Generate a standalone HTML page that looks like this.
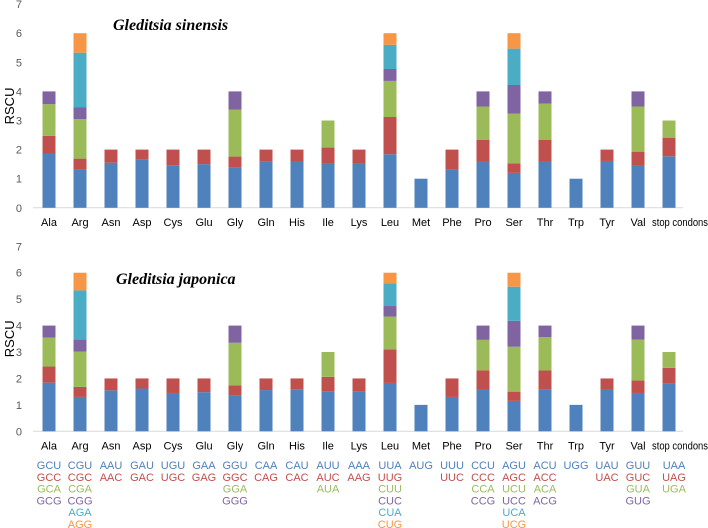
<!DOCTYPE html>
<html><head><meta charset="utf-8"><style>
body{margin:0;background:#fff;}
svg{display:block;font-family:"Liberation Sans",sans-serif;}
</style></head><body>
<svg id="chart" width="708" height="528" viewBox="0 0 708 528"></svg>
<script>
const categories=["Ala","Arg","Asn","Asp","Cys","Glu","Gly","Gln","His","Ile","Lys","Leu","Met","Phe","Pro","Ser","Thr","Trp","Tyr","Val","stop condons"];
const sinensisValues=[
[1.85,0.62,1.09,0.44],[1.32,0.37,1.36,0.41,1.87,0.67],[1.55,0.45],[1.65,0.35],[1.46,0.54],[1.5,0.5],
[1.39,0.37,1.61,0.63],[1.58,0.42],[1.59,0.41],[1.52,0.55,0.93],[1.52,0.48],[1.84,1.28,1.24,0.41,0.83,0.4],
[1],[1.32,0.68],[1.59,0.74,1.15,0.52],[1.2,0.33,1.71,0.98,1.25,0.53],[1.59,0.74,1.25,0.42],[1],[1.61,0.39],
[1.47,0.46,1.55,0.52],[1.77,0.64,0.59]];
const japonicaValues=[
[1.84,0.61,1.1,0.45],[1.3,0.38,1.34,0.45,1.86,0.67],[1.55,0.45],[1.62,0.38],[1.45,0.55],[1.48,0.52],
[1.37,0.37,1.61,0.65],[1.56,0.44],[1.59,0.41],[1.52,0.54,0.94],[1.52,0.48],[1.83,1.27,1.24,0.4,0.85,0.41],
[1],[1.3,0.7],[1.58,0.73,1.15,0.54],[1.15,0.35,1.7,0.98,1.29,0.53],[1.57,0.73,1.26,0.44],[1],[1.6,0.4],
[1.45,0.47,1.55,0.53],[1.8,0.6,0.6]];
const yTicks=[0,1,2,3,4,5,6,7];
const codons=[["GCU","GCC","GCA","GCG"],["CGU","CGC","CGA","CGG","AGA","AGG"],["AAU","AAC"],["GAU","GAC"],["UGU","UGC"],["GAA","GAG"],["GGU","GGC","GGA","GGG"],["CAA","CAG"],["CAU","CAC"],["AUU","AUC","AUA"],["AAA","AAG"],["UUA","UUG","CUU","CUC","CUA","CUG"],["AUG"],["UUU","UUC"],["CCU","CCC","CCA","CCG"],["AGU","AGC","UCU","UCC","UCA","UCG"],["ACU","ACC","ACA","ACG"],["UGG"],["UAU","UAC"],["GUU","GUC","GUA","GUG"],["UAA","UAG","UGA"]];
const colors=["#4F81BD","#C0504D","#9BBB59","#8064A2","#4BACC6","#F79646"];
const svg=document.getElementById('chart');
const NS="http://www.w3.org/2000/svg";
function mk(tag,attrs,parent){const e=document.createElementNS(NS,tag);for(const k in attrs)e.setAttribute(k,attrs[k]);(parent||svg).appendChild(e);return e;}
function xPos(i){return 49+i*31;}
function drawPanel(values,y0,unit,title,tx,ty,key){
  const g=mk('g',{});
  
  
  const yS=v=>y0-v*unit;
  yTicks.forEach(t=>{const tl=mk('text',{x:22,y:yS(t)+4,'font-size':11,fill:'#595959','text-anchor':'end'},g);tl.textContent=t;
    
    });
  const ax=mk('line',{x1:33,x2:683,y1:y0,y2:y0,stroke:'#D9D9D9','stroke-width':1},g);
  
  
  const yt=mk('text',{x:0,y:0,'font-size':13,fill:'#000','text-anchor':'middle',transform:`translate(14,${yS(3.5)}) rotate(-90)`},g);
  yt.textContent='RSCU';
  
  
  const tt=mk('text',{x:tx,y:ty,'font-size':16,'font-weight':'bold','font-style':'italic','font-family':'"Liberation Serif",serif'},g);
  tt.textContent=title;
  
  
  values.forEach((segs,i)=>{let cum=0;segs.forEach((v,j)=>{
    const r=mk('rect',{x:xPos(i)-6.5,y:yS(cum+v),width:13,height:v*unit,fill:colors[j]},g);
    
    
    cum+=v;});
    const attrs={x:xPos(i)+(i==20?11:0),y:y0+18,'font-size':11,fill:'#000','text-anchor':'middle'};
    if(i==20){attrs.textLength=56;attrs.lengthAdjust='spacingAndGlyphs';}
    const cl=mk('text',attrs,g);
    cl.textContent=categories[i];
    
    
  });
}
drawPanel(sinensisValues,207.8,29.1,'Gleditsia sinensis',113,30,'sinensis');
drawPanel(japonicaValues,431.3,26.43,'Gleditsia japonica',116,284,'japonica');
codons.forEach((list,i)=>{list.forEach((c,j)=>{
  const t=mk('text',{x:xPos(i)+(i==20?5:0),y:469+j*11.8,'font-size':11,fill:colors[j],'text-anchor':'middle'});
  t.textContent=c;
  
  
});});
</script>
</body></html>
